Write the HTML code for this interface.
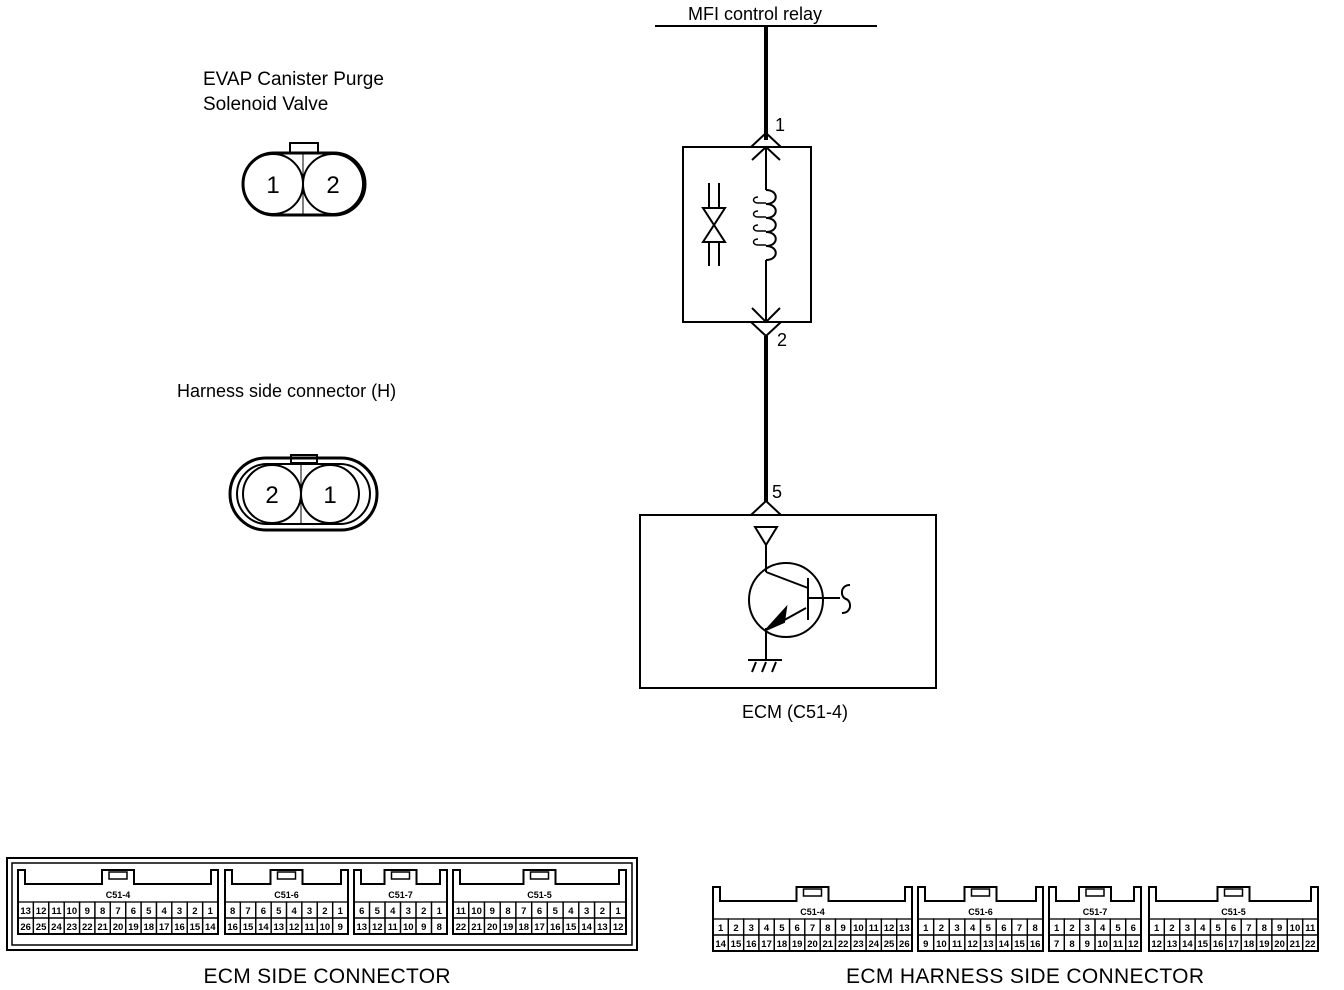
<!DOCTYPE html>
<html><head><meta charset="utf-8"><style>
body{margin:0;background:#fff}
svg{display:block}
text{font-family:"Liberation Sans",sans-serif;fill:#000}
</style></head><body>
<svg id="s" width="1344" height="990" viewBox="0 0 1344 990" xmlns="http://www.w3.org/2000/svg">
<g fill="none" stroke="#000" stroke-width="2">
<line x1="655" y1="26" x2="877" y2="26"/>
<line x1="766" y1="26" x2="766" y2="140" stroke-width="4"/>
<path d="M751,147 L766,133 L781,147"/>
<rect x="683" y="147" width="128" height="175"/>
<path d="M752,160 L766,147 L780,160"/>
<line x1="766" y1="147" x2="766" y2="190"/>
<path d="M766,190 c13,0 13,14 0,14 M766,204 c13,0 13,14 0,14 M766,218 c13,0 13,14 0,14 M766,232 c13,0 13,14 0,14 M766,246 c13,0 13,14 0,14"/>
<path d="M758,197 c-6,0 -6,6 0,6 h8 M758,211 c-6,0 -6,6 0,6 h8 M758,225 c-6,0 -6,6 0,6 h8 M758,239 c-6,0 -6,6 0,6 h8" stroke-width="1.5"/>
<line x1="766" y1="260" x2="766" y2="322"/>
<path d="M752,308 L766,322 L780,308"/>
<path d="M751,322 L766,336 L781,322"/>
<line x1="766" y1="336" x2="766" y2="502" stroke-width="4"/>
<line x1="709" y1="183" x2="709" y2="208"/><line x1="719" y1="183" x2="719" y2="208"/>
<path d="M703,208 L725,208 L714,225 Z M703,242 L725,242 L714,225 Z"/>
<line x1="709" y1="242" x2="709" y2="266"/><line x1="719" y1="242" x2="719" y2="266"/>
<path d="M751,515 L766,501 L781,515"/>
<rect x="640" y="515" width="296" height="173"/>
<path d="M755,527 L777,527 L766,545 Z"/>
<line x1="766" y1="545" x2="766" y2="572"/>
<circle cx="786" cy="600" r="37"/>
<line x1="766" y1="572" x2="808" y2="588"/>
<line x1="808" y1="578" x2="808" y2="620"/>
<line x1="808" y1="598" x2="840" y2="598"/>
<path d="M850,585 c-10,0 -10,12 -4,14 c6,2 6,14 -4,14"/>
<line x1="806" y1="608" x2="770" y2="628"/>
<path d="M766,630 L786,608 L784,622 Z" fill="#000"/>
<line x1="766" y1="628" x2="766" y2="660"/>
<line x1="748" y1="660" x2="782" y2="660"/>
<path d="M756,662 l-4,10 M766,662 l-4,10 M776,662 l-4,10"/>
<rect x="243" y="153" width="122" height="62" rx="31" stroke-width="3"/>
<circle cx="273" cy="184" r="30"/><circle cx="333" cy="184" r="30"/>
<rect x="290" y="143" width="28" height="10"/>
<line x1="303" y1="153" x2="303" y2="215" stroke-width="1"/>
<rect x="230" y="458" width="147" height="72" rx="36" stroke-width="3"/>
<rect x="237" y="464" width="133" height="60" rx="30"/>
<circle cx="272" cy="494" r="29"/><circle cx="330" cy="494" r="29"/>
<rect x="291" y="455" width="26" height="8"/>
<line x1="301" y1="464" x2="301" y2="524" stroke-width="1"/>
<rect x="7" y="858" width="630" height="92" stroke-width="2"/>
<rect x="12" y="863" width="620" height="82" stroke-width="1.5"/>
</g>
<text x="688" y="20" font-size="18">MFI control relay</text>
<text x="775" y="131" font-size="18">1</text>
<text x="777" y="346" font-size="18">2</text>
<text x="772" y="498" font-size="18">5</text>
<text x="795" y="718" font-size="18" text-anchor="middle">ECM (C51-4)</text>
<text x="203" y="85" font-size="19">EVAP Canister Purge</text>
<text x="203" y="110" font-size="19">Solenoid Valve</text>
<text x="273" y="193" font-size="24" text-anchor="middle">1</text>
<text x="333" y="193" font-size="24" text-anchor="middle">2</text>
<text x="177" y="397" font-size="18">Harness side connector (H)</text>
<text x="272" y="503" font-size="24" text-anchor="middle">2</text>
<text x="330" y="503" font-size="24" text-anchor="middle">1</text>
<text x="327" y="983" font-size="21" text-anchor="middle" textLength="247">ECM SIDE CONNECTOR</text>
<text x="1025" y="983" font-size="21" text-anchor="middle" textLength="358">ECM HARNESS SIDE CONNECTOR</text>
<g id="mods"></g>
</svg>
<script>
var NS="http://www.w3.org/2000/svg",g=document.getElementById("mods");
function el(t,a,txt){var e=document.createElementNS(NS,t);for(var k in a)e.setAttribute(k,a[k]);if(txt!=null)e.textContent=txt;g.appendChild(e);}
function mod(x0,x1,yt,r1,name,top,bot){
 var n=top.length,cx=(x0+x1)/2,yb=r1+32,h=yt+14;
 el("path",{d:"M"+x0+","+yt+"H"+(x0+7)+"V"+h+"H"+(cx-16)+"V"+yt+"H"+(cx+16)+"V"+h+"H"+(x1-7)+"V"+yt+"H"+x1+"V"+yb+"H"+x0+"Z",fill:"none",stroke:"#000","stroke-width":2});
 el("rect",{x:cx-9,y:yt+2,width:18,height:7,fill:"none",stroke:"#000","stroke-width":1.5});
 el("text",{x:cx,y:r1-4,"font-size":9,"font-weight":"bold","text-anchor":"middle"},name);
 var w=(x1-x0)/n;
 for(var i=0;i<n;i++){
  el("rect",{x:x0+i*w,y:r1,width:w,height:16,fill:"none",stroke:"#000","stroke-width":1.3});
  el("rect",{x:x0+i*w,y:r1+16,width:w,height:16,fill:"none",stroke:"#000","stroke-width":1.3});
  el("text",{x:x0+i*w+w/2,y:r1+12,"font-size":9.5,"font-weight":"bold","text-anchor":"middle"},top[i]);
  el("text",{x:x0+i*w+w/2,y:r1+28,"font-size":9.5,"font-weight":"bold","text-anchor":"middle"},bot[i]);
 }
}
function rng(a,b){var r=[];if(a<=b)for(var i=a;i<=b;i++)r.push(i);else for(var i=a;i>=b;i--)r.push(i);return r;}
mod(18,218,870,902,"C51-4",rng(13,1),rng(26,14));
mod(225,348,870,902,"C51-6",rng(8,1),rng(16,9));
mod(354,447,870,902,"C51-7",rng(6,1),rng(13,8));
mod(453,626,870,902,"C51-5",rng(11,1),rng(22,12));
mod(713,912,887,919,"C51-4",rng(1,13),rng(14,26));
mod(918,1043,887,919,"C51-6",rng(1,8),rng(9,16));
mod(1049,1141,887,919,"C51-7",rng(1,6),rng(7,12));
mod(1149,1318,887,919,"C51-5",rng(1,11),rng(12,22));
</script>
</body></html>
